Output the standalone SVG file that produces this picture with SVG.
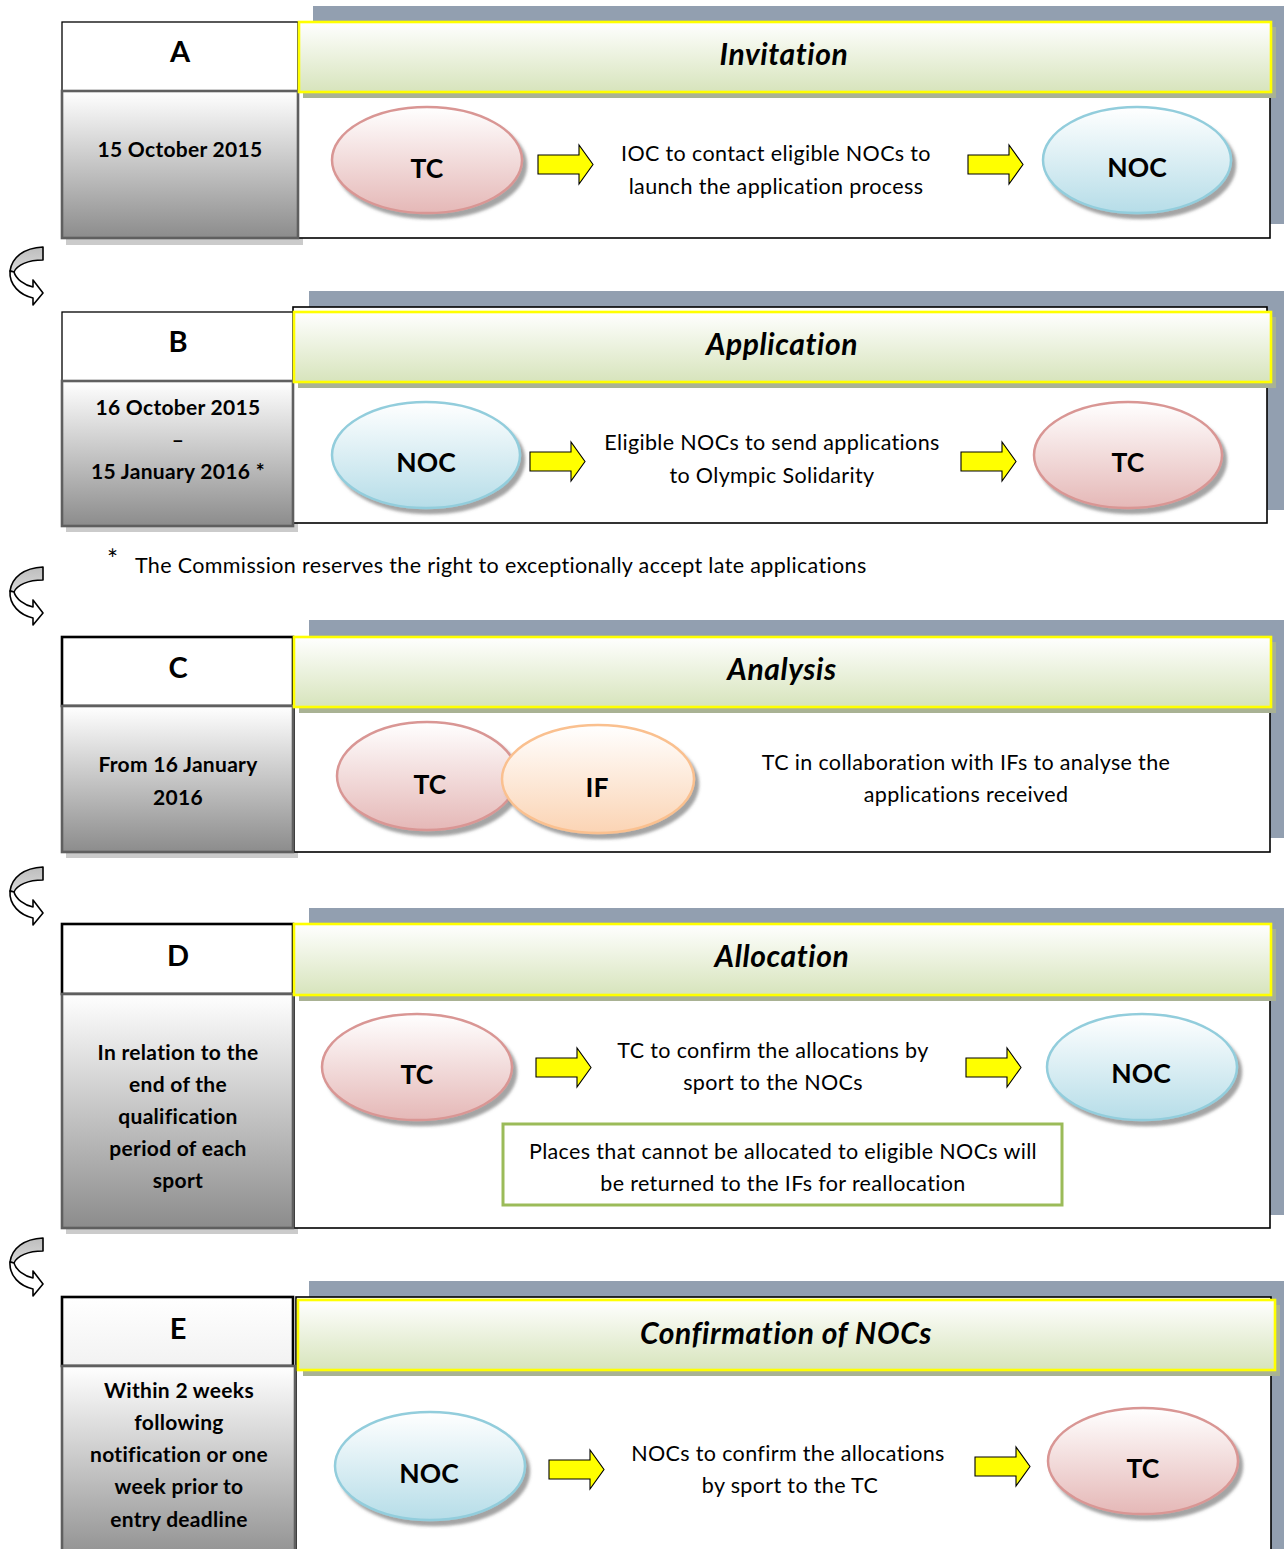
<svg xmlns="http://www.w3.org/2000/svg" width="1284" height="1549" viewBox="0 0 1284 1549">
<defs>
  <linearGradient id="gDate" x1="0" y1="0" x2="0" y2="1">
    <stop offset="0" stop-color="#ffffff"/>
    <stop offset="1" stop-color="#8c8c8c"/>
  </linearGradient>
  <linearGradient id="gLetterE" x1="0" y1="0" x2="0" y2="1">
    <stop offset="0" stop-color="#ffffff"/>
    <stop offset="1" stop-color="#f2f2f2"/>
  </linearGradient>
  <linearGradient id="gHdr" x1="0" y1="0" x2="0" y2="1">
    <stop offset="0" stop-color="#ffffff"/>
    <stop offset="1" stop-color="#d7e4bc"/>
  </linearGradient>
  <linearGradient id="gTC" x1="0" y1="0" x2="0" y2="1">
    <stop offset="0" stop-color="#ffffff"/>
    <stop offset="1" stop-color="#e5b8b7"/>
  </linearGradient>
  <linearGradient id="gNOC" x1="0" y1="0" x2="0" y2="1">
    <stop offset="0" stop-color="#ffffff"/>
    <stop offset="1" stop-color="#b6dde8"/>
  </linearGradient>
  <linearGradient id="gIF" x1="0" y1="0" x2="0" y2="1">
    <stop offset="0" stop-color="#ffffff"/>
    <stop offset="1" stop-color="#fbd4b4"/>
  </linearGradient>
  <linearGradient id="gCurve" x1="0" y1="0" x2="0" y2="1">
    <stop offset="0" stop-color="#bdbdbd"/>
    <stop offset="1" stop-color="#d9d9d9"/>
  </linearGradient>
  <filter id="sh" x="-10%" y="-10%" width="130%" height="140%">
    <feDropShadow dx="4" dy="5" stdDeviation="1.5" flood-color="#5a5a5a" flood-opacity="0.55"/>
  </filter>
  <path id="yarrow" d="M0,10 H41 V0 L55,19.5 L41,39 V29 H0 Z"/>
  <g id="curve">
    <path d="M43,0 C24,1 12,10 10,24 L14,25 C17,18 28,13 43,13 Z" fill="url(#gCurve)" stroke="#000" stroke-width="1.6" stroke-linejoin="round"/>
    <path d="M10,24 C9,38 20,48 33,51 L33,58 L43,46 L33,33 L33,40 C24,38 16,32 14,25 Z" fill="#fff" stroke="#000" stroke-width="1.6" stroke-linejoin="round"/>
  </g>
</defs>
<style>
  .back{fill:#929fb0}
  .letter{fill:#fff;stroke:#000;stroke-width:1.3}
  .letter.thick{stroke-width:2.6}
  .date{fill:url(#gDate);stroke:#5f5f5f;stroke-width:2.6}
  .dshadow{fill:#cbcbcb}
  .hshadow{fill:#a9b294}
  .hdr{fill:url(#gHdr);stroke:#ffff00;stroke-width:2.6}
  .main{fill:#fff;stroke:#000;stroke-width:1.6}
  .tc{fill:url(#gTC);stroke:#d99694;stroke-width:2.5;filter:url(#sh)}
  .noc{fill:url(#gNOC);stroke:#92cddc;stroke-width:2.5;filter:url(#sh)}
  .if{fill:url(#gIF);stroke:#fac08f;stroke-width:2.5;filter:url(#sh)}
  .green{fill:#fff;stroke:#9bbb59;stroke-width:3}
  .ya{fill:#ffff00;stroke:#000;stroke-width:1.1;stroke-linejoin:miter}
  text{font-family:Lato,"Open Sans","Liberation Sans",sans-serif;fill:#000;text-anchor:middle}
  .lt{font-size:29px;font-weight:bold}
  .dt{font-size:21px;font-weight:bold;letter-spacing:0.3px}
  .ht{font-size:30px;font-weight:bold;font-style:italic;letter-spacing:0.6px}
  .et{font-size:26.5px;font-weight:bold}
  .bt{font-size:21.5px;letter-spacing:0.35px}
  .fn{font-size:21.5px;letter-spacing:0.35px;text-anchor:start}
</style>

<!-- Section A -->
<g id="section-a">
  <rect class="back" x="313" y="6" width="971" height="218"/>
  <rect class="dshadow" x="66" y="95" width="237" height="150"/>
  <rect class="main" x="298" y="92" width="972" height="146"/>
  <rect class="hshadow" x="303" y="27" width="973" height="71"/>
  <g id="node-a-letter"><rect class="letter" x="62" y="22" width="236" height="69"/><text class="lt" x="180" y="62">A</text></g>
  <g id="node-a-date"><rect class="date" x="62" y="91" width="236" height="147"/><text class="dt" x="180" y="157">15 October 2015</text></g>
  <g id="node-a-header"><rect class="hdr" x="299" y="22" width="972" height="70"/><text class="ht" x="784" y="65">Invitation</text></g>
  <g id="node-a-tc"><ellipse class="tc" cx="427" cy="160" rx="95" ry="53"/><text class="et" x="427" y="178">TC</text></g>
  <g id="node-a-text"><text class="bt" x="776" y="161">IOC to contact eligible NOCs to</text><text class="bt" x="776" y="194">launch the application process</text></g>
  <g id="node-a-noc"><ellipse class="noc" cx="1137" cy="160" rx="94" ry="53"/><text class="et" x="1137" y="177">NOC</text></g>
</g>

<!-- Section B -->
<g id="section-b">
  <rect class="back" x="309" y="291" width="975" height="219"/>
  <rect class="dshadow" x="66" y="385" width="232" height="147"/>
  <rect class="main" x="293" y="307" width="974" height="216"/>
  <rect class="hshadow" x="298" y="317" width="978" height="71"/>
  <g id="node-b-letter"><rect class="letter" x="62" y="312" width="231" height="69"/><text class="lt" x="178" y="352">B</text></g>
  <g id="node-b-date"><rect class="date" x="62" y="381" width="231" height="145"/>
    <text class="dt" x="178" y="415">16 October 2015</text>
    <text class="dt" x="178" y="447">–</text>
    <text class="dt" x="178" y="479">15 January 2016 *</text></g>
  <g id="node-b-header"><rect class="hdr" x="294" y="312" width="977" height="70"/><text class="ht" x="782" y="355">Application</text></g>
  <g id="node-b-noc"><ellipse class="noc" cx="426" cy="455" rx="94" ry="53"/><text class="et" x="426" y="472">NOC</text></g>
  <g id="node-b-text"><text class="bt" x="772" y="450">Eligible NOCs to send applications</text><text class="bt" x="772" y="483">to Olympic Solidarity</text></g>
  <g id="node-b-tc"><ellipse class="tc" cx="1128" cy="455" rx="94" ry="53"/><text class="et" x="1128" y="472">TC</text></g>
</g>

<g id="footnote">
  <text class="fn" x="107" y="569" style="font-size:26px">*</text>
  <text class="fn" x="135" y="573">The Commission reserves the right to exceptionally accept late applications</text>
</g>

<!-- Section C -->
<g id="section-c">
  <rect class="back" x="309" y="620" width="975" height="218"/>
  <rect class="dshadow" x="66" y="710" width="232" height="148"/>
  <rect class="main" x="294" y="707" width="976" height="145"/>
  <rect class="hshadow" x="299" y="642" width="977" height="71"/>
  <g id="node-c-letter"><rect class="letter thick" x="62" y="637" width="231" height="69"/><text class="lt" x="178" y="678">C</text></g>
  <g id="node-c-date"><rect class="date" x="62" y="706" width="231" height="146"/>
    <text class="dt" x="178" y="772">From 16 January</text>
    <text class="dt" x="178" y="805">2016</text></g>
  <g id="node-c-header"><rect class="hdr" x="294" y="637" width="977" height="70"/><text class="ht" x="782" y="680">Analysis</text></g>
  <g id="node-c-tc"><ellipse class="tc" cx="427" cy="776" rx="90" ry="54"/><text class="et" x="430" y="794">TC</text></g>
  <g id="node-c-if"><ellipse class="if" cx="598" cy="779" rx="96" ry="54"/><text class="et" x="597" y="797">IF</text></g>
  <g id="node-c-text"><text class="bt" x="966" y="770">TC in collaboration with IFs to analyse the</text><text class="bt" x="966" y="802">applications received</text></g>
</g>

<!-- Section D -->
<g id="section-d">
  <rect class="back" x="309" y="908" width="975" height="307"/>
  <rect class="dshadow" x="66" y="998" width="232" height="236"/>
  <rect class="main" x="294" y="995" width="976" height="233"/>
  <rect class="hshadow" x="299" y="929" width="977" height="72"/>
  <g id="node-d-letter"><rect class="letter thick" x="62" y="924" width="231" height="70"/><text class="lt" x="178" y="966">D</text></g>
  <g id="node-d-date"><rect class="date" x="62" y="994" width="231" height="234"/>
    <text class="dt" x="178" y="1060">In relation to the</text>
    <text class="dt" x="178" y="1092">end of the</text>
    <text class="dt" x="178" y="1124">qualification</text>
    <text class="dt" x="178" y="1156">period of each</text>
    <text class="dt" x="178" y="1188">sport</text></g>
  <g id="node-d-header"><rect class="hdr" x="294" y="924" width="977" height="71"/><text class="ht" x="782" y="967">Allocation</text></g>
  <g id="node-d-tc"><ellipse class="tc" cx="417" cy="1067" rx="95" ry="53"/><text class="et" x="417" y="1084">TC</text></g>
  <g id="node-d-text"><text class="bt" x="773" y="1058">TC to confirm the allocations by</text><text class="bt" x="773" y="1090">sport to the NOCs</text></g>
  <g id="node-d-noc"><ellipse class="noc" cx="1142" cy="1067" rx="95" ry="53"/><text class="et" x="1141" y="1083">NOC</text></g>
  <g id="node-d-note"><rect class="green" x="503" y="1124" width="559" height="81"/>
    <text class="bt" x="783" y="1159">Places that cannot be allocated to eligible NOCs will</text>
    <text class="bt" x="783" y="1191">be returned to the IFs for reallocation</text></g>
</g>

<!-- Section E -->
<g id="section-e">
  <rect class="back" x="309" y="1281" width="975" height="268"/>
  <rect class="dshadow" x="66" y="1370" width="234" height="190"/>
  <rect class="main" x="296" y="1297" width="975" height="270"/>
  <rect class="hshadow" x="303" y="1305" width="977" height="71"/>
  <g id="node-e-letter"><rect x="62" y="1297" width="231" height="69" fill="url(#gLetterE)" stroke="#000" stroke-width="2.6"/><text class="lt" x="178" y="1339">E</text></g>
  <g id="node-e-date"><rect class="date" x="62" y="1366" width="233" height="200"/>
    <text class="dt" x="179" y="1398">Within 2 weeks</text>
    <text class="dt" x="179" y="1430">following</text>
    <text class="dt" x="179" y="1462">notification or one</text>
    <text class="dt" x="179" y="1494">week prior to</text>
    <text class="dt" x="179" y="1527">entry deadline</text></g>
  <g id="node-e-header"><rect class="hdr" x="298" y="1300" width="977" height="70"/><text class="ht" x="786" y="1344">Confirmation of NOCs</text></g>
  <g id="node-e-noc"><ellipse class="noc" cx="430" cy="1466" rx="95" ry="54"/><text class="et" x="429" y="1483">NOC</text></g>
  <g id="node-e-text"><text class="bt" x="788" y="1461">NOCs to confirm the allocations</text><text class="bt" x="790" y="1493">by sport to the TC</text></g>
  <g id="node-e-tc"><ellipse class="tc" cx="1143" cy="1461" rx="95" ry="53"/><text class="et" x="1143" y="1478">TC</text></g>
</g>

<!-- Connectors -->
<g id="connectors">
  <use href="#yarrow" class="ya" x="538" y="145"/>
  <use href="#yarrow" class="ya" x="968" y="145"/>
  <use href="#yarrow" class="ya" x="530" y="442"/>
  <use href="#yarrow" class="ya" x="961" y="442"/>
  <use href="#yarrow" class="ya" x="536" y="1048"/>
  <use href="#yarrow" class="ya" x="966" y="1048"/>
  <use href="#yarrow" class="ya" x="549" y="1450"/>
  <use href="#yarrow" class="ya" x="975" y="1447"/>
  <use href="#curve" x="0" y="247"/>
  <use href="#curve" x="0" y="567"/>
  <use href="#curve" x="0" y="867"/>
  <use href="#curve" x="0" y="1238"/>
</g>
</svg>
